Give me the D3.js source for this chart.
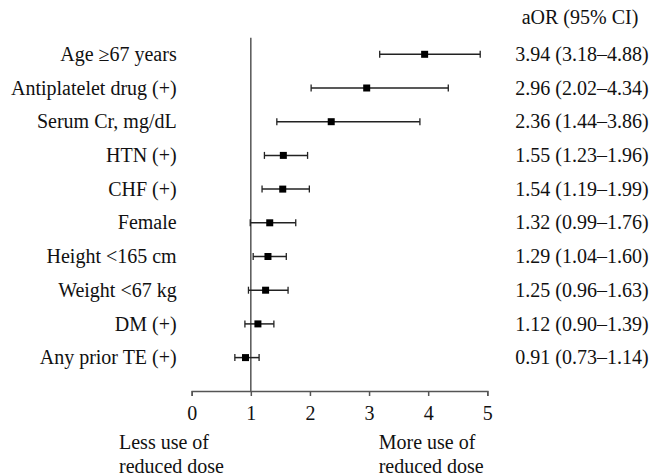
<!DOCTYPE html>
<html>
<head>
<meta charset="utf-8">
<script src="https://cdn.jsdelivr.net/npm/d3@7"></script>
<style>
  body { margin: 0; background: #fff; }
  svg text { font-family: "Liberation Serif", "Times New Roman", serif; fill: #111; }
</style>
</head>
<body>
<div id="chart"></div>
<script>
// Data
const labels = ["Age \u226567 years", "Antiplatelet drug (+)", "Serum Cr, mg/dL", "HTN (+)", "CHF (+)",
    "Female", "Height <165 cm", "Weight <67 kg", "DM (+)", "Any prior TE (+)"];
const aor = [3.94, 2.96, 2.36, 1.55, 1.54, 1.32, 1.29, 1.25, 1.12, 0.91];
const ciLow = [3.18, 2.02, 1.44, 1.23, 1.19, 0.99, 1.04, 0.96, 0.90, 0.73];
const ciHigh = [4.88, 4.34, 3.86, 1.96, 1.99, 1.76, 1.60, 1.63, 1.39, 1.14];
const xTicks = [0, 1, 2, 3, 4, 5];

const width = 649, height = 475;
const fontSize = 20;

const svg = d3.select("#chart")
    .append("svg")
    .attr("width", width)
    .attr("height", height);

const rows = labels.map((l, i) => ({ label: l, aor: aor[i], lo: ciLow[i], hi: ciHigh[i] }));

// Scales
const x = d3.scaleLinear().domain([0, 5]).range([191.7, 487.3]);
const y = d3.scalePoint().domain(labels).range([54.3, 357.6]);
const axisY = 391;

// x axis
const xAxis = d3.axisBottom(x).tickValues(xTicks).tickSize(5).tickPadding(10).tickFormat(d3.format("d"));
const gx = svg.append("g")
    .attr("transform", `translate(0,${axisY})`)
    .call(xAxis);
gx.select(".domain").attr("stroke", "#555").attr("stroke-width", 1.5);
gx.selectAll(".tick line").attr("stroke", "#555").attr("stroke-width", 1.5);
gx.selectAll(".tick text")
    .attr("fill", "#111")
    .style("font-family", "'Liberation Serif', serif")
    .style("font-size", fontSize + "px");

// reference line at 1
svg.append("line")
    .attr("x1", x(1)).attr("x2", x(1))
    .attr("y1", 37.7).attr("y2", axisY)
    .attr("stroke", "#555")
    .attr("stroke-width", 1.5);

// error bars
const rowG = svg.selectAll(".row")
    .data(rows)
    .enter()
    .append("g")
    .attr("class", "row");

rowG.append("line")
    .attr("x1", d => x(d.lo)).attr("x2", d => x(d.hi))
    .attr("y1", d => y(d.label)).attr("y2", d => y(d.label))
    .attr("stroke", "#222").attr("stroke-width", 1.5);

rowG.append("line")
    .attr("x1", d => x(d.lo)).attr("x2", d => x(d.lo))
    .attr("y1", d => y(d.label) - 3.5).attr("y2", d => y(d.label) + 3.5)
    .attr("stroke", "#222").attr("stroke-width", 1.3);

rowG.append("line")
    .attr("x1", d => x(d.hi)).attr("x2", d => x(d.hi))
    .attr("y1", d => y(d.label) - 3.5).attr("y2", d => y(d.label) + 3.5)
    .attr("stroke", "#222").attr("stroke-width", 1.3);

const sq = 7;
rowG.append("rect")
    .attr("x", d => x(d.aor) - sq / 2)
    .attr("y", d => y(d.label) - sq / 2)
    .attr("width", sq).attr("height", sq)
    .attr("fill", "#000");

// row labels
rowG.append("text")
    .attr("x", 176.7)
    .attr("y", d => y(d.label))
    .attr("dy", "0.33em")
    .attr("text-anchor", "end")
    .style("font-size", fontSize + "px")
    .text(d => d.label);

// aOR column
const fmt = d3.format(".2f");
rowG.append("text")
    .attr("x", 582)
    .attr("y", d => y(d.label))
    .attr("dy", "0.33em")
    .attr("text-anchor", "middle")
    .style("font-size", fontSize + "px")
    .text(d => `${fmt(d.aor)} (${fmt(d.lo)}\u2013${fmt(d.hi)})`);

svg.append("text")
    .attr("x", 580)
    .attr("y", 24)
    .attr("text-anchor", "middle")
    .style("font-size", fontSize + "px")
    .text("aOR (95% CI)");

// direction notes
const notes = [
    { x: 119, lines: ["Less use of", "reduced dose"] },
    { x: 378.7, lines: ["More use of", "reduced dose"] }
];
notes.forEach(n => {
    n.lines.forEach((t, i) => {
        svg.append("text")
            .attr("x", n.x)
            .attr("y", 449 + i * 23.5)
            .style("font-size", fontSize + "px")
            .text(t);
    });
});
</script>
</body>
</html>
